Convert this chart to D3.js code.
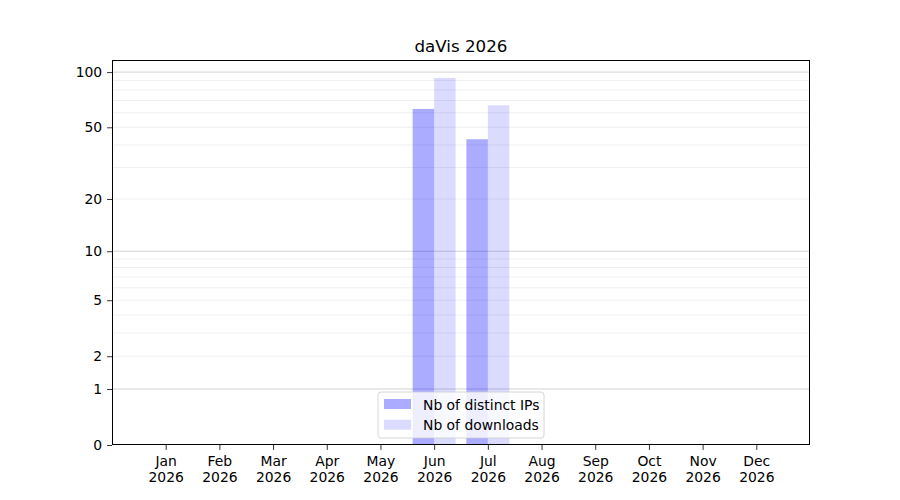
<!DOCTYPE html>
<html>
<head>
<meta charset="utf-8">
<script src="https://cdn.jsdelivr.net/npm/d3@7"></script>
<style>
  body { margin: 0; background: #fff; }
  svg, svg text { font-family: "DejaVu Sans", sans-serif; }
  .tick text { font-size: 13.9px; fill: #000; }
</style>
</head>
<body>
<svg id="chart" width="900" height="500"></svg>
<script>
// chart data
const months = ['Jan', 'Feb', 'Mar', 'Apr', 'May', 'Jun', 'Jul', 'Aug', 'Sep', 'Oct', 'Nov', 'Dec'];
const year = '2026';
const distinctIPs = [0, 0, 0, 0, 0, 63, 43, 0, 0, 0, 0, 0];
const downloads = [0, 0, 0, 0, 0, 93, 66, 0, 0, 0, 0, 0];
const yTickValues = [0, 1, 2, 5, 10, 20, 50, 100];
const majorGrid = [1, 10, 100];
const minorGrid = [2, 3, 4, 5, 6, 7, 8, 9, 20, 30, 40, 50, 60, 70, 80, 90];
const seriesNames = ['Nb of distinct IPs', 'Nb of downloads'];

const svg = d3.select('#chart');
const margin = {top: 60, right: 90, bottom: 55, left: 112};
const width = 900 - margin.left - margin.right;
const height = 500 - margin.top - margin.bottom;

// y is log10(1 + v)
const tf = v => Math.log10(1 + v);
const yLin = d3.scaleLinear().domain([0, tf(116.3)]).range([height, 0]);
const y = v => yLin(tf(v));
const x = d3.scaleLinear().domain([-1, 12]).range([0, width]);
const barW = 0.4;

const g = svg.append('g').attr('transform', `translate(${margin.left},${margin.top})`);

// grid
g.selectAll('.minor').data(minorGrid).enter().append('line')
    .attr('x1', 0).attr('x2', width)
    .attr('y1', d => y(d)).attr('y2', d => y(d))
    .attr('stroke', '#ebebeb').attr('stroke-width', 0.8);
g.selectAll('.major').data(majorGrid).enter().append('line')
    .attr('x1', 0).attr('x2', width)
    .attr('y1', d => y(d)).attr('y2', d => y(d))
    .attr('stroke', '#c8c8c8').attr('stroke-width', 0.8);

// bars
g.selectAll('.ip').data(distinctIPs).enter().append('rect')
    .attr('x', (d, i) => x(i - barW))
    .attr('width', x(barW) - x(0))
    .attr('y', d => y(d))
    .attr('height', d => height - y(d))
    .attr('fill', 'blue').attr('fill-opacity', 0.33);
g.selectAll('.dl').data(downloads).enter().append('rect')
    .attr('x', (d, i) => x(i))
    .attr('width', x(barW) - x(0))
    .attr('y', d => y(d))
    .attr('height', d => height - y(d))
    .attr('fill', 'blue').attr('fill-opacity', 0.14);

// axes
const yAxis = g.append('g')
    .call(d3.axisLeft(yLin).tickValues(yTickValues.map(tf))
      .tickFormat((d, i) => yTickValues[i]).tickSize(4.9).tickPadding(4.9));
const xAxis = g.append('g').attr('transform', `translate(0,${height})`)
    .call(d3.axisBottom(x).tickValues(d3.range(months.length))
      .tickFormat(i => months[i]).tickSize(4.9).tickPadding(6.5));
xAxis.selectAll('.tick text').append('tspan')
    .attr('x', 0).attr('dy', '1.13em').text(year);
[xAxis, yAxis].forEach(a => {
  a.attr('font-family', 'DejaVu Sans').attr('font-size', 13.9);
  a.select('.domain').remove();
  a.selectAll('.tick line').attr('stroke', '#000').attr('stroke-width', 0.8);
});

// frame
g.append('rect').attr('x', 0.5).attr('y', 0.5)
    .attr('width', width - 1).attr('height', height - 1)
    .attr('fill', 'none').attr('stroke', '#000').attr('stroke-width', 1);

// title
svg.append('text')
    .attr('x', margin.left + width / 2).attr('y', 52)
    .attr('text-anchor', 'middle').attr('font-size', 16.7)
    .text('daVis ' + year);

// legend
const lg = svg.append('g').attr('transform', 'translate(378,392)');
lg.append('rect').attr('width', 166).attr('height', 46).attr('rx', 3)
    .attr('fill', '#fff').attr('fill-opacity', 0.8)
    .attr('stroke', '#cccccc').attr('stroke-width', 0.8);
[0.33, 0.14].forEach((op, i) => {
  const row = lg.append('g').attr('transform', `translate(6,${7 + i * 20.7})`);
  row.append('rect').attr('width', 27).attr('height', 10)
      .attr('fill', 'blue').attr('fill-opacity', op);
  row.append('text').attr('x', 39).attr('y', 10.5)
      .attr('font-size', 13.9).text(seriesNames[i]);
});
</script>
</body>
</html>
